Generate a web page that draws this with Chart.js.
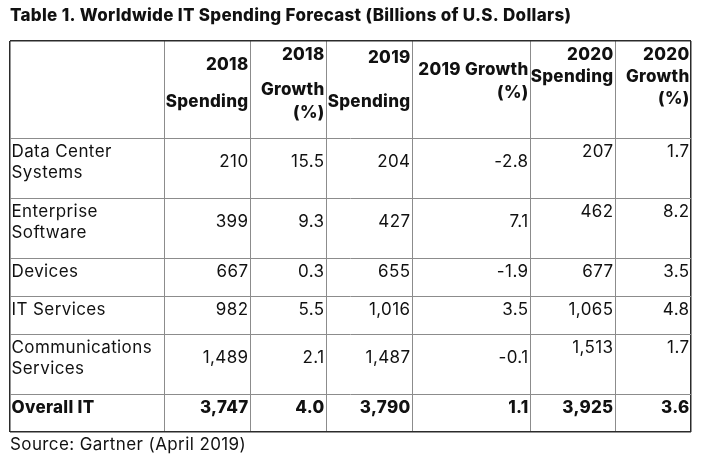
<!DOCTYPE html>
<html>
<head>
<meta charset="utf-8">
<script src="https://cdn.jsdelivr.net/npm/chart.js@4.4.1/dist/chart.umd.min.js"></script>
<style>
    body { margin: 0; background: #fff; }
</style>
</head>
<body>
<canvas id="SpendingTable" width="704" height="461"></canvas>
<script>
var Categories = ['Data Center\nSystems', 'Enterprise\nSoftware', 'Devices', 'IT Services', 'Communications\nServices', 'Overall IT']
var Spending2018 = [210, 399, 667, 982, 1489, 3747]
var Growth2018 = [15.5, 9.3, 0.3, 5.5, 2.1, 4.0]
var Spending2019 = [204, 427, 655, 1016, 1487, 3790]
var Growth2019 = [-2.8, 7.1, -1.9, 3.5, -0.1, 1.1]
var Spending2020 = [207, 462, 677, 1065, 1513, 3925]
var Growth2020 = [1.7, 8.2, 3.5, 4.8, 1.7, 3.6]
var HeaderLabels = [[], ['2018', 'Spending'], ['2018', 'Growth', '(%)'], ['2019', 'Spending'], ['2019 Growth', '(%)'], ['2020', 'Spending'], ['2020', 'Growth', '(%)']]
var TitleText = 'Table 1. Worldwide IT Spending Forecast (Billions of U.S. Dollars)'
var SourceText = 'Source: Gartner (April 2019)'

// table layout (units = px inside the table box)
var ColEdges = [0, 154, 240, 316, 402, 520, 605, 681]
var RowEdges = [0, 97, 157, 217, 255, 293, 353, 391]
var HeaderBaselines = [[], [29, 66], [19, 54, 77], [22, 66], [34, 57], [19, 41], [19, 41, 63]]
var TopAlignedCols = [5, 6]

var FONT = 'Inter, "Open Sans", sans-serif'
var SIZE = '17px '

function fmtSpend(v) { return v.toLocaleString('en-US') }
function fmtGrowth(v) { return v.toFixed(1) }

var Columns = [
    Categories,
    Spending2018.map(fmtSpend),
    Growth2018.map(fmtGrowth),
    Spending2019.map(fmtSpend),
    Growth2019.map(fmtGrowth),
    Spending2020.map(fmtSpend),
    Growth2020.map(fmtGrowth),
]

function setFont(ctx, bold) {
    ctx.font = (bold ? '800 ' : '400 ') + SIZE + FONT
    ctx.letterSpacing = bold ? '0.3px' : '0.4px'
}

var tableTextPlugin = {
    id: 'tableText',
    afterDraw: function (chart) {
        var ctx = chart.ctx
        var xs = chart.scales.x
        var ys = chart.scales.y
        ctx.save()
        ctx.fillStyle = '#111'
        ctx.textBaseline = 'alphabetic'

        // title + source
        ctx.textAlign = 'left'
        setFont(ctx, true)
        ctx.fillText(TitleText, xs.left, 21)
        setFont(ctx, false)
        ctx.fillText(SourceText, xs.left, 450)

        // header row
        setFont(ctx, true)
        ctx.textAlign = 'right'
        var headTop = ys.getPixelForValue(RowEdges[0])
        for (var c = 1; c < HeaderLabels.length; c++) {
            var right = xs.getPixelForValue(ColEdges[c + 1]) - 1.5
            HeaderLabels[c].forEach(function (line, i) {
                ctx.fillText(line, right, headTop + HeaderBaselines[c][i])
            })
        }

        // body rows
        for (var r = 0; r < Categories.length; r++) {
            var top = ys.getPixelForValue(RowEdges[r + 1])
            var isTotal = r === Categories.length - 1
            setFont(ctx, isTotal)
            var lines = Categories[r].split('\n')
            ctx.textAlign = 'left'
            lines.forEach(function (line, i) {
                ctx.fillText(line, xs.getPixelForValue(ColEdges[0]) + 1.5, top + 19 + i * 21)
            })
            ctx.textAlign = 'right'
            for (var c = 1; c < Columns.length; c++) {
                var base = top + 19
                if (lines.length > 1 && TopAlignedCols.indexOf(c) < 0) base = top + 29
                ctx.fillText(Columns[c][r], xs.getPixelForValue(ColEdges[c + 1]) - 1.5, base)
            }
        }
        ctx.restore()
    }
}

function edgeColor(edges) {
    return function (ctx) {
        return (ctx.index === 0 || ctx.index === edges.length - 1) ? '#2b2b2b' : '#8c8c8c'
    }
}

new Chart(document.getElementById('SpendingTable').getContext('2d'), {
    type: 'scatter',
    data: { datasets: [] },
    plugins: [tableTextPlugin],
    options: {
        responsive: false,
        animation: false,
        events: [],
        layout: {
            padding: { left: 10, top: 41, right: 13, bottom: 29 }
        },
        plugins: {
            legend: { display: false },
            tooltip: { enabled: false },
        },
        scales: {
            x: {
                type: 'linear',
                min: ColEdges[0],
                max: ColEdges[ColEdges.length - 1],
                afterBuildTicks: function (scale) {
                    scale.ticks = ColEdges.map(function (v) { return { value: v } })
                },
                ticks: { display: false },
                border: { display: false },
                grid: {
                    drawTicks: false,
                    color: edgeColor(ColEdges),
                    lineWidth: function (ctx) { return (ctx.index === 0 || ctx.index === ColEdges.length - 1) ? 1.5 : 1 },
                },
            },
            y: {
                type: 'linear',
                reverse: true,
                min: RowEdges[0],
                max: RowEdges[RowEdges.length - 1],
                afterBuildTicks: function (scale) {
                    scale.ticks = RowEdges.map(function (v) { return { value: v } })
                },
                ticks: { display: false },
                border: { display: false },
                grid: {
                    drawTicks: false,
                    color: edgeColor(RowEdges),
                    lineWidth: function (ctx) { return (ctx.index === 0 || ctx.index === RowEdges.length - 1) ? 1.5 : 1 },
                },
            },
        },
    },
})
</script>
</body>
</html>
